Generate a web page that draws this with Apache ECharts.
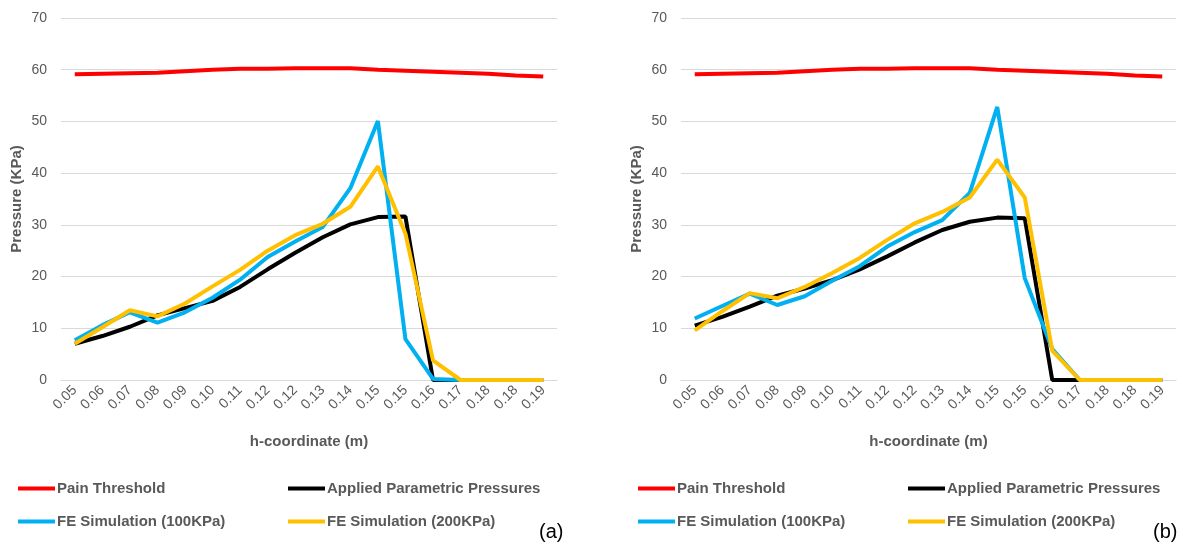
<!DOCTYPE html>
<html>
<head>
<meta charset="utf-8">
<script src="https://cdn.jsdelivr.net/npm/echarts@6/dist/echarts.min.js"></script>
<style>
  html, body { margin: 0; padding: 0; background: #fff; }
  #chart { width: 1178px; height: 548px; }
</style>
</head>
<body>
<div id="chart"></div>
<script>
// h-coordinate 刻度（原图就是重复的标签）
const hCoord = ['0.05', '0.06', '0.07', '0.08', '0.09', '0.10', '0.11', '0.12', '0.12',
  '0.13', '0.14', '0.15', '0.15', '0.16', '0.17', '0.18', '0.18', '0.19']

// (a)
const painA = [59.1, 59.2, 59.3, 59.4, 59.7, 60.0, 60.2, 60.2, 60.3, 60.3, 60.3, 60.0, 59.8, 59.6, 59.4, 59.2, 58.9, 58.7]
const appliedA = [7.0, 8.5, 10.3, 12.5, 13.9, 15.3, 18.0, 21.4, 24.6, 27.6, 30.1, 31.5, 31.6, 0, 0, 0, 0, 0]
const fe100A = [7.7, 10.6, 13.1, 11.1, 13.1, 15.9, 19.4, 23.8, 26.8, 29.6, 37.1, 50.1, 7.9, 0.2, 0, 0, 0, 0]
const fe200A = [7.0, 10.2, 13.5, 12.3, 14.8, 18.1, 21.3, 25.0, 28.0, 30.2, 33.5, 41.3, 28.3, 3.8, 0, 0, 0, 0]

// (b)
const painB = [59.1, 59.2, 59.3, 59.4, 59.7, 60.0, 60.2, 60.2, 60.3, 60.3, 60.3, 60.0, 59.8, 59.6, 59.4, 59.2, 58.9, 58.7]
const appliedB = [10.5, 12.2, 14.2, 16.3, 17.7, 19.3, 21.4, 23.9, 26.6, 29.0, 30.6, 31.4, 31.3, 0, 0, 0, 0, 0]
const fe100B = [11.9, 14.3, 16.7, 14.5, 16.2, 19.2, 22.0, 25.8, 28.6, 30.9, 36.2, 52.8, 19.7, 6.0, 0, 0, 0, 0]
const fe200B = [9.6, 13.3, 16.8, 15.8, 18.0, 20.7, 23.6, 27.1, 30.3, 32.5, 35.3, 42.6, 35.3, 5.7, 0, 0, 0, 0]

const seriesNames = ['Pain Threshold', 'Applied Parametric Pressures', 'FE Simulation (100KPa)', 'FE Simulation (200KPa)']
const colors = ['#ff0000', '#000000', '#00b0f0', '#ffc000']

const gray = '#595959'
const font = 'Liberation Sans, Arial, sans-serif'

function xAxis(gridIndex) {
  return {
    type: 'category',
    gridIndex: gridIndex,
    data: hCoord,
    boundaryGap: true,
    name: 'h-coordinate (m)',
    nameLocation: 'middle',
    nameGap: 54,
    nameTextStyle: { color: gray, fontWeight: 'bold', fontSize: 15, fontFamily: font },
    axisLine: { lineStyle: { color: '#d9d9d9' } },
    axisTick: { show: false },
    axisLabel: { interval: 0, rotate: 45, color: gray, fontSize: 14, fontFamily: font, margin: 8 },
  }
}

function yAxis(gridIndex) {
  return {
    type: 'value',
    gridIndex: gridIndex,
    min: 0,
    max: 70,
    interval: 10,
    name: 'Pressure (KPa)',
    nameLocation: 'middle',
    nameGap: 37,
    nameTextStyle: { color: gray, fontWeight: 'bold', fontSize: 15, fontFamily: font },
    axisLine: { show: false },
    axisTick: { show: false },
    axisLabel: { color: gray, fontSize: 14, fontFamily: font, margin: 14 },
    splitLine: { lineStyle: { color: '#d9d9d9', width: 1 } },
  }
}

function lines(gridIndex, data) {
  return data.map((d, i) => ({
    name: seriesNames[i],
    type: 'line',
    xAxisIndex: gridIndex,
    yAxisIndex: gridIndex,
    data: d,
    symbol: 'none',
    lineStyle: { color: colors[i], width: 4 },
    itemStyle: { color: colors[i] },
    z: 2 + i,
  }))
}

// 每个图例单独放，2 x 2 排
function legends(offsetX) {
  const pos = [[13, 476], [283, 476], [13, 509], [283, 509]]
  return seriesNames.map((n, i) => ({
    data: [n],
    left: offsetX + pos[i][0],
    top: pos[i][1],
    icon: 'rect',
    itemWidth: 37,
    itemHeight: 4,
    itemGap: 0,
    textStyle: { color: gray, fontSize: 15, fontWeight: 'bold', fontFamily: font, padding: [0, 0, 0, -3] },
    selectedMode: false,
  }))
}

const option = {
  animation: false,
  backgroundColor: '#fff',
  grid: [
    { left: 61, right: 621, top: 18, bottom: 168 },
    { left: 681, right: 2, top: 18, bottom: 168 },
  ],
  xAxis: [xAxis(0), xAxis(1)],
  yAxis: [yAxis(0), yAxis(1)],
  legend: legends(0).concat(legends(620)),
  series: lines(0, [painA, appliedA, fe100A, fe200A]).concat(lines(1, [painB, appliedB, fe100B, fe200B])),
  graphic: [
    { type: 'text', left: 539, top: 522, style: { text: '(a)', fill: '#000', font: '20px ' + font } },
    { type: 'text', left: 1153, top: 522, style: { text: '(b)', fill: '#000', font: '20px ' + font } },
  ],
}

const myChart = echarts.init(document.getElementById('chart'))
myChart.setOption(option, true)
</script>
</body>
</html>
